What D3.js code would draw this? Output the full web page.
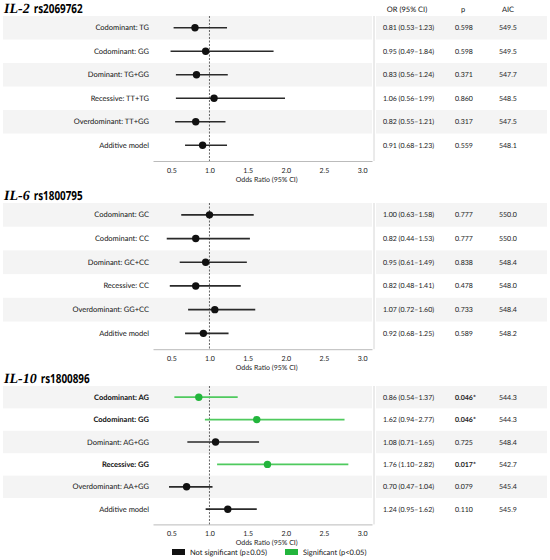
<!DOCTYPE html>
<html>
<head>
<meta charset="utf-8">
<script src="https://cdn.jsdelivr.net/npm/d3@7"></script>
<style>
  body { margin: 0; background: #fff; }
  text { font-family: Lato, "Open Sans", sans-serif; }
</style>
</head>
<body>
<script>
const width = 550, height = 560;

// panel headings
const genes = ["IL-2", "IL-6", "IL-10"];
const snps = ["rs2069762", "rs1800795", "rs1800896"];

// IL-2 rs2069762
const il2Labels = ["Codominant: TG", "Codominant: GG", "Dominant: TG+GG", "Recessive: TT+TG", "Overdominant: TT+GG", "Additive model"];
const il2OR = [0.81, 0.95, 0.83, 1.06, 0.82, 0.91];
const il2Lo = [0.53, 0.49, 0.56, 0.56, 0.55, 0.68];
const il2Hi = [1.23, 1.84, 1.24, 1.99, 1.21, 1.23];
const il2P = [0.598, 0.598, 0.371, 0.860, 0.317, 0.559];
const il2AIC = [549.5, 549.5, 547.7, 548.5, 547.5, 548.1];

// IL-6 rs1800795
const il6Labels = ["Codominant: GC", "Codominant: CC", "Dominant: GC+CC", "Recessive: CC", "Overdominant: GG+CC", "Additive model"];
const il6OR = [1.00, 0.82, 0.95, 0.82, 1.07, 0.92];
const il6Lo = [0.63, 0.44, 0.61, 0.48, 0.72, 0.68];
const il6Hi = [1.58, 1.53, 1.49, 1.41, 1.60, 1.25];
const il6P = [0.777, 0.777, 0.838, 0.478, 0.733, 0.589];
const il6AIC = [550.0, 550.0, 548.4, 548.0, 548.4, 548.2];

// IL-10 rs1800896
const il10Labels = ["Codominant: AG", "Codominant: GG", "Dominant: AG+GG", "Recessive: GG", "Overdominant: AA+GG", "Additive model"];
const il10OR = [0.86, 1.62, 1.08, 1.76, 0.70, 1.24];
const il10Lo = [0.54, 0.94, 0.71, 1.10, 0.47, 0.95];
const il10Hi = [1.37, 2.77, 1.65, 2.82, 1.04, 1.62];
const il10P = [0.046, 0.046, 0.725, 0.017, 0.079, 0.110];
const il10AIC = [544.3, 544.3, 548.4, 542.7, 545.4, 545.9];

const xTicks = [0.5, 1.0, 1.5, 2.0, 2.5, 3.0];
const tableHeads = ["OR (95% CI)", "p", "AIC"];
const legendLabels = ["Not significant (p\u22650.05)", "Significant (p<0.05)"];

const panels = [
  { labels: il2Labels, or: il2OR, lo: il2Lo, hi: il2Hi, p: il2P, aic: il2AIC },
  { labels: il6Labels, or: il6OR, lo: il6Lo, hi: il6Hi, p: il6P, aic: il6AIC },
  { labels: il10Labels, or: il10OR, lo: il10Lo, hi: il10Hi, p: il10P, aic: il10AIC }
];

// layout
const panelTop = [16, 203, 386];
const rowH = [23.5, 23.7, 22.4];
const bandColor = "#f4f4f4";
const black = "#111", lineBlack = "#2a2a2a";
const green = "#22b53c", lineGreen = "#4fca5e";

const svg = d3.select("body").append("svg")
  .attr("width", width).attr("height", height)
  .attr("text-rendering", "geometricPrecision");

const x = d3.scaleLinear().domain([0.26, 3.13]).range([153, 372]);

panels.forEach((pn, k) => {
  const rows = pn.labels.map((lab, i) => ({
    idx: i, label: lab, or: pn.or[i], lo: pn.lo[i], hi: pn.hi[i], p: pn.p[i], aic: pn.aic[i],
    sig: pn.p[i] < 0.05
  }));
  const top = panelTop[k];
  const y = d3.scaleBand().domain(d3.range(rows.length))
    .range([top, top + rowH[k] * rows.length]);
  const axisY = y.range()[1] + 4;
  const g = svg.append("g");
  const shaded = rows.filter((d) => d.idx % 2 === 0);

  // title: italic gene name, then a condensed SNP id
  const geneText = g.append("text").attr("x", 4).attr("y", top - 3)
    .attr("font-weight", "bold").attr("font-size", 14).attr("font-style", "italic")
    .style("font-family", "'Liberation Serif', serif")
    .text(genes[k]);
  const gw = geneText.node().getComputedTextLength();
  g.append("text").attr("x", 4 + gw + 4).attr("y", top - 3)
    .attr("font-weight", "bold").attr("font-size", 12.5)
    .attr("textLength", 49).attr("lengthAdjust", "spacingAndGlyphs")
    .style("font-family", "'Open Sans', sans-serif")
    .text(snps[k]);

  // alternating bands, plot side and table side
  g.selectAll("rect.band").data(shaded).join("rect").attr("class", "band")
    .attr("x", 3).attr("width", 369)
    .attr("y", (d) => y(d.idx)).attr("height", y.bandwidth())
    .attr("fill", bandColor);
  g.selectAll("rect.tband").data(shaded).join("rect").attr("class", "tband")
    .attr("x", 376).attr("width", 171)
    .attr("y", (d) => y(d.idx)).attr("height", y.bandwidth())
    .attr("fill", bandColor);

  // table separator
  g.append("line").attr("x1", 374).attr("x2", 374)
    .attr("y1", top).attr("y2", axisY)
    .attr("stroke", "#ccc").attr("stroke-width", 0.8);

  // axis
  const ax = g.append("g").attr("transform", `translate(0,${axisY})`)
    .call(d3.axisBottom(x).tickValues(xTicks).tickFormat(d3.format(".1f")).tickSize(0).tickPadding(7));
  ax.select(".domain").attr("stroke", "#bbb");
  ax.selectAll("text").attr("font-size", 7).attr("fill", "#222")
    .style("font-family", "Lato, sans-serif");
  g.append("text").attr("x", x(1.75)).attr("y", axisY + 21)
    .attr("text-anchor", "middle").attr("font-size", 7).attr("fill", "#222")
    .text("Odds Ratio (95% CI)");

  // reference line at OR = 1
  g.append("line").attr("x1", x(1)).attr("x2", x(1))
    .attr("y1", top).attr("y2", axisY)
    .attr("stroke", "#555").attr("stroke-width", 0.9).attr("stroke-dasharray", "2,1.5");

  const cy = (d) => y(d.idx) + y.bandwidth() / 2;

  // CI lines and points
  g.selectAll("line.ci").data(rows).join("line").attr("class", "ci")
    .attr("x1", (d) => x(d.lo)).attr("x2", (d) => x(d.hi))
    .attr("y1", cy).attr("y2", cy)
    .attr("stroke", (d) => d.sig ? lineGreen : lineBlack).attr("stroke-width", 1.7);
  g.selectAll("circle.pt").data(rows).join("circle").attr("class", "pt")
    .attr("cx", (d) => x(d.or)).attr("cy", cy).attr("r", 3.7)
    .attr("fill", (d) => d.sig ? green : black);

  // row labels
  g.selectAll("text.lab").data(rows).join("text").attr("class", "lab")
    .attr("x", 149).attr("y", (d) => cy(d) + 2.5)
    .attr("text-anchor", "end").attr("font-size", 7.5).attr("fill", "#111")
    .attr("font-weight", (d) => d.sig ? "bold" : "normal")
    .text((d) => d.label);

  // table columns
  const f2 = d3.format(".2f");
  g.selectAll("text.or").data(rows).join("text").attr("class", "or")
    .attr("x", 383).attr("y", (d) => cy(d) + 2.5)
    .attr("font-size", 7).attr("fill", "#222")
    .text((d) => `${f2(d.or)} (${f2(d.lo)}\u2013${f2(d.hi)})`);
  g.selectAll("text.p").data(rows).join("text").attr("class", "p")
    .attr("x", 455).attr("y", (d) => cy(d) + 2.5)
    .attr("font-size", 7).attr("fill", "#222")
    .attr("font-weight", (d) => d.sig ? "bold" : "normal")
    .text((d) => d3.format(".3f")(d.p) + (d.sig ? "*" : ""));
  g.selectAll("text.aic").data(rows).join("text").attr("class", "aic")
    .attr("x", 499).attr("y", (d) => cy(d) + 2.5)
    .attr("font-size", 7).attr("fill", "#222")
    .text((d) => d3.format(".1f")(d.aic));

  if (k === 0) {
    const hx = [407, 463, 508];
    g.selectAll("text.head").data(tableHeads).join("text").attr("class", "head")
      .attr("x", (d, i) => hx[i]).attr("y", top - 4)
      .attr("text-anchor", "middle").attr("font-size", 7.5).attr("fill", "#111")
      .text((d) => d);
  }
});

// legend
const legend = svg.append("g");
const lx = [172, 285];
const lc = [black, green];
legend.selectAll("rect").data(legendLabels).join("rect")
  .attr("x", (d, i) => lx[i]).attr("y", 549).attr("width", 13).attr("height", 6)
  .attr("fill", (d, i) => lc[i]);
legend.selectAll("text").data(legendLabels).join("text")
  .attr("x", (d, i) => lx[i] + 18).attr("y", 555)
  .attr("font-size", 7.5).attr("fill", "#111")
  .text((d) => d);
</script>
</body>
</html>
